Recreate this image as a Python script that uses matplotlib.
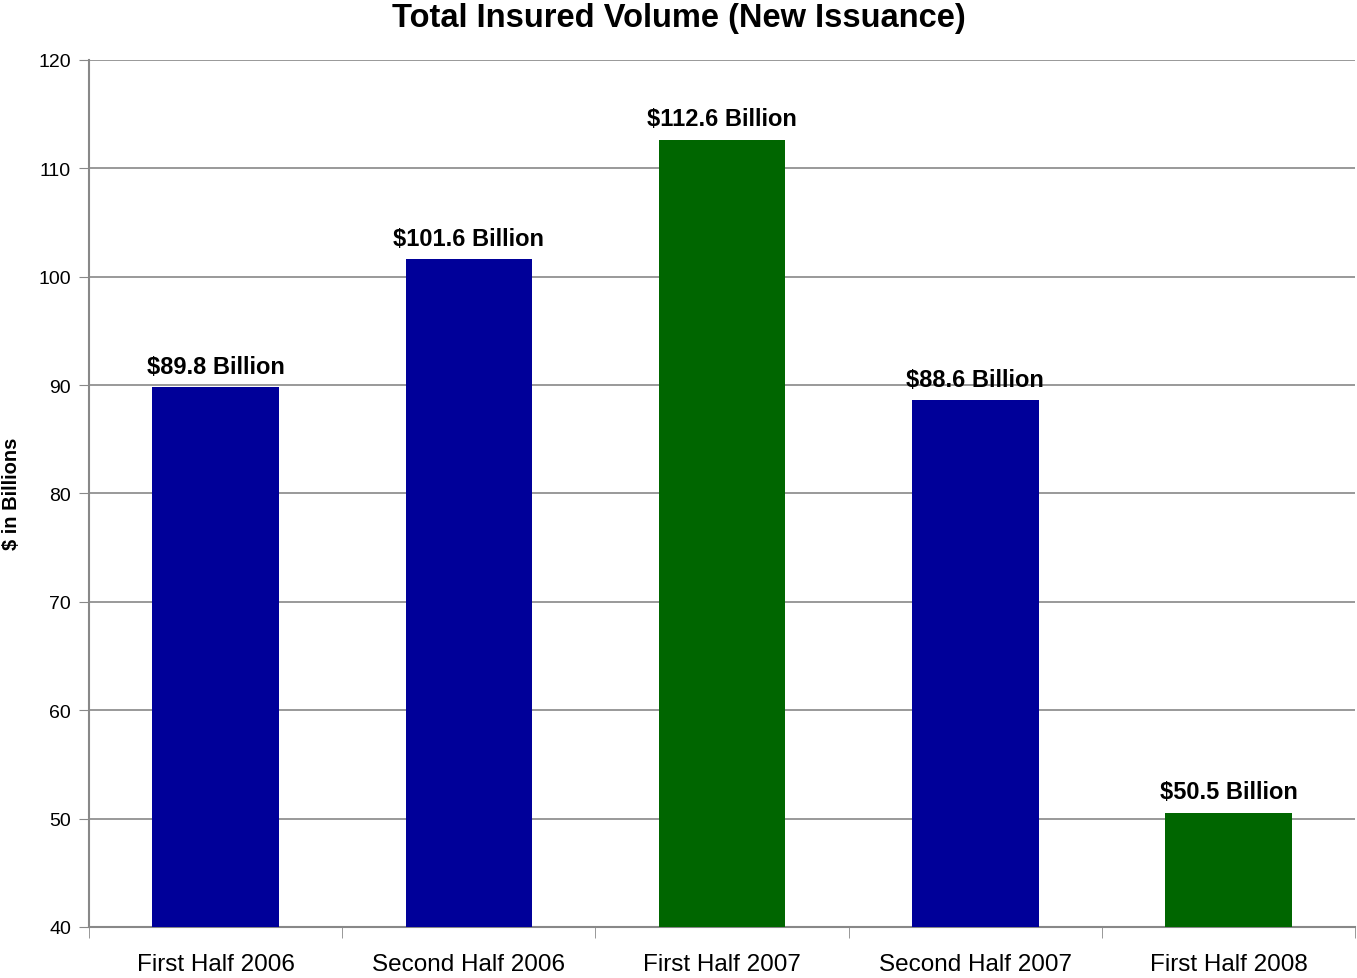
import matplotlib.pyplot as plt
import numpy as np

plt.rcParams['font.family'] = ['Liberation Sans', 'DejaVu Sans']

# data
periods = ["First Half 2006", "Second Half 2006", "First Half 2007",
           "Second Half 2007", "First Half 2008"]
volumes = [89.8, 101.6, 112.6, 88.6, 50.5]
bar_colors = ["#000099", "#000099", "#006600", "#000099", "#006600"]
yticks = [40, 50, 60, 70, 80, 90, 100, 110, 120]

fig = plt.figure(figsize=(13.57, 9.79), dpi=100)
ax = fig.add_axes([0.0656, 0.0521, 0.933, 0.8856])

x = np.arange(len(periods))
ax.bar(x, [v - 40 for v in volumes], bottom=40, width=0.5,
       color=bar_colors, zorder=3)

for xi, v in zip(x, volumes):
    ax.text(xi, v + 0.9, f"${v} Billion", ha='center', va='bottom',
            fontsize=17, fontweight='bold')

ax.set_xlim(-0.5, len(periods) - 0.5)
ax.set_ylim(40, 120)
ax.set_yticks(yticks)
ax.tick_params(axis='y', labelsize=14, length=7, color='#888888', pad=6)
ax.grid(axis='y', color='#888888', linewidth=1.2, zorder=0)

ax.set_xticks(x)
ax.set_xticklabels(periods, fontsize=17.5)
ax.set_xticks(np.arange(-0.5, len(periods)), minor=True)
ax.tick_params(axis='x', which='major', length=0, pad=19)
ax.tick_params(axis='x', which='minor', length=8, color='#888888')

for side in ['top', 'right']:
    ax.spines[side].set_visible(False)
for side in ['left', 'bottom']:
    ax.spines[side].set_color('#888888')
    ax.spines[side].set_linewidth(1.5)

fig.text(12 / 1357, 1 - 494 / 979, "$ in Billions", rotation=90,
         ha='center', va='center', fontsize=14.5, fontweight='bold')
fig.text(0.5, 1 - 19 / 979, "Total Insured Volume (New Issuance)",
         ha='center', va='center', fontsize=23.5, fontweight='bold')

fig.savefig("out.png", dpi=100)
